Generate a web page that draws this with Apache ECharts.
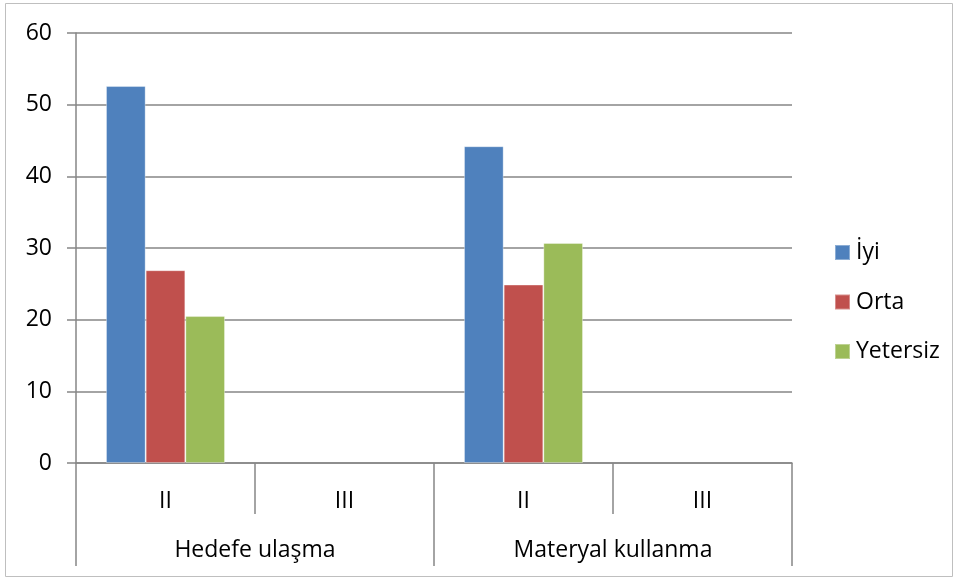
<!DOCTYPE html>
<html><head><meta charset="utf-8">
<script src="https://cdn.jsdelivr.net/npm/echarts@6/dist/echarts.min.js"></script>
<style>html,body{margin:0;padding:0;background:#fff}#c{width:958px;height:579px}</style>
</head><body><div id="c"></div>
<script>
const subCategories = ['II', 'III', 'II', 'III'];
const groupCategories = ['Hedefe ulaşma', 'Materyal kullanma'];
const seriesNames = ['İyi', 'Orta', 'Yetersiz'];
const iyi = [52.6, null, 44.2, null];
const orta = [26.9, null, 24.9, null];
const yetersiz = [20.5, null, 30.7, null];
const yTicks = [0, 10, 20, 30, 40, 50, 60];

const colors = ['#4F81BD', '#C0504D', '#9BBB59'];
const font = 'Open Sans';
const fs = 23;
const chart = echarts.init(document.getElementById('c'));
chart.setOption({
  animation: false,
  textStyle: { fontFamily: font },
  graphic: [{ type: 'rect', shape: { x: 5.5, y: 3.5, width: 947, height: 573 },
    style: { fill: 'none', stroke: '#bfbfbf', lineWidth: 1 }, silent: true }],
  grid: { left: 76, right: 166, top: 33, bottom: 116, containLabel: false },
  legend: {
    orient: 'vertical', left: 834, top: 241, padding: 0, itemWidth: 15, itemHeight: 15, itemGap: 26.5,
    icon: 'rect', data: seriesNames,
    textStyle: { fontFamily: font, fontSize: fs, color: '#000', lineHeight: 21, padding: [0, 0, 0, 1] }
  },
  xAxis: [{
    type: 'category', data: subCategories, position: 'bottom',
    axisLine: { lineStyle: { color: '#868686', width: 1.5 } },
    axisTick: { show: true, interval: 0, length: 51, lineStyle: { color: '#868686', width: 1.5 } },
    axisLabel: { interval: 0, margin: 27, fontSize: fs, color: '#000', fontFamily: font }
  }, {
    type: 'category', data: groupCategories, position: 'bottom', offset: 51,
    axisLine: { show: false },
    axisTick: { show: true, interval: 0, length: 52, lineStyle: { color: '#868686', width: 1.5 } },
    axisLabel: { interval: 0, margin: 25, fontSize: fs, color: '#000', fontFamily: font }
  }],
  yAxis: {
    type: 'value', min: yTicks[0], max: yTicks[yTicks.length - 1], interval: 10,
    axisLine: { show: true, lineStyle: { color: '#868686', width: 1.5 } },
    axisTick: { show: true, length: 9, lineStyle: { color: '#868686', width: 1.5 } },
    splitLine: { lineStyle: { color: '#868686', width: 1.5 } },
    axisLabel: { margin: 24, fontSize: fs, color: '#000', fontFamily: font }
  },
  series: [iyi, orta, yetersiz].map((d, i) => ({
    name: seriesNames[i], type: 'bar', data: d, xAxisIndex: 0,
    barGap: '0%', barCategoryGap: '33.5%',
    itemStyle: { color: colors[i], borderColor: 'rgba(255,255,255,0.35)', borderWidth: 1 }
  }))
});
</script></body></html>
